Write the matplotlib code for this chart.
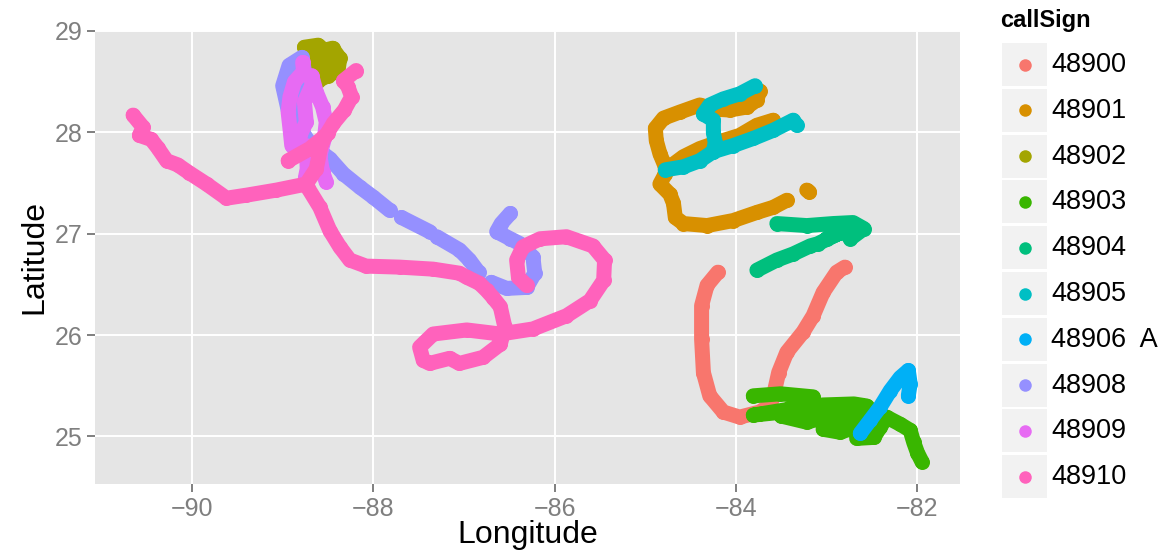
import numpy as np
import matplotlib.pyplot as plt
from matplotlib.patches import Rectangle

plt.rcParams['font.family'] = ['Liberation Sans', 'DejaVu Sans']

nan = np.nan

call_signs = ['48900', '48901', '48902', '48903', '48904',
              '48905', '48906', '48908', '48909', '48910']
legend_labels = ['48900', '48901', '48902', '48903', '48904',
                 '48905', '48906  A', '48908', '48909', '48910']
colors = ['#F8766D', '#D89000', '#A3A500', '#39B600', '#00BF7D',
          '#00BFC4', '#00B0F6', '#9590FF', '#E76BF3', '#FF62BC']

# drifter positions, nan = gap between recorded stretches
lon_48900 = [-84.20, -84.32, -84.38, -84.38, -84.36, -84.29, -84.14, -83.96, -83.74,
             -83.62, -83.57, -83.53, -83.44, -83.26, -83.15, -83.04, -82.89, -82.80]
lat_48900 = [26.62, 26.49, 26.29, 25.96, 25.63, 25.40, 25.24, 25.19, 25.24,
             25.31, 25.47, 25.63, 25.83, 26.03, 26.19, 26.42, 26.62, 26.67]

lon_48901 = [-83.74, -83.77, -83.88, -84.07, -84.25, -84.40, -84.62, -84.80, -84.89, -84.88,
             -84.84, -84.78, -84.78, -84.84, -84.73, -84.69, -84.67, -84.58, -84.32, -84.03,
             -83.77, -83.59, -83.44, nan,
             -84.73, -84.58, -84.40, -84.21, -83.96, -83.77, -83.59, nan,
             -83.22, -83.19]
lat_48901 = [28.41, 28.32, 28.25, 28.22, 28.23, 28.27, 28.20, 28.14, 28.04, 27.92,
             27.79, 27.66, 27.59, 27.49, 27.39, 27.30, 27.16, 27.10, 27.08, 27.13,
             27.21, 27.26, 27.33, nan,
             27.66, 27.76, 27.84, 27.90, 27.97, 28.07, 28.12, nan,
             27.43, 27.41]

lon_48902 = [-88.76, -88.61, -88.54, -88.45, -88.37, -88.39, -88.50, -88.61, -88.68,
             -88.76, -88.61, -88.48, -88.57, -88.78]
lat_48902 = [28.84, 28.86, 28.81, 28.83, 28.73, 28.61, 28.56, 28.51, 28.61,
             28.74, 28.75, 28.69, 28.63, 28.59]

lon_48903 = [-83.81, -83.51, -83.15, -83.48, -83.81, -83.40, -83.04, -82.70, -82.56,
             -82.85, -83.22, -83.50, -83.22, -82.90, -82.66, -82.90, -83.04, -82.85,
             -82.66, -82.67, -82.48, -82.41, -82.34, -82.19, -82.08, -82.04, -82.00,
             -81.95]
lat_48903 = [25.40, 25.42, 25.39, 25.24, 25.21, 25.27, 25.31, 25.32, 25.30,
             25.24, 25.20, 25.20, 25.14, 25.22, 25.22, 25.12, 25.07, 25.04,
             25.10, 24.98, 24.99, 25.09, 25.19, 25.12, 25.06, 24.94, 24.84,
             24.75]

lon_48904 = [-83.55, -83.22, -82.93, -82.71, -82.59, -82.74, -82.80, -83.00, -82.85,
             -83.10, -83.18, -83.37, -83.55, -83.77]
lat_48904 = [27.10, 27.08, 27.10, 27.11, 27.05, 26.95, 27.03, 26.95, 27.01,
             26.90, 26.88, 26.80, 26.74, 26.64]

lon_48905 = [-83.79, -83.96, -84.14, -84.29, -84.36, -84.25, -84.25, -84.23, -84.25, nan,
             -84.78, -84.58, -84.40, -84.25, -84.03, -83.81, -83.59, -83.37, -83.33]
lat_48905 = [28.46, 28.38, 28.33, 28.27, 28.18, 28.12, 28.00, 27.90, 27.81, nan,
             27.63, 27.66, 27.72, 27.81, 27.87, 27.94, 28.02, 28.12, 28.07]

lon_48906 = [-82.63, -82.52, -82.41, -82.30, -82.19, -82.10, -82.08, -82.10]
lat_48906 = [25.03, 25.16, 25.29, 25.45, 25.58, 25.65, 25.52, 25.40]

lon_48908 = [-88.94, -89.00, -88.93, -88.79, -88.76, -88.78, -88.81, -88.81, -88.76, -88.68,
             -88.57, -88.48, -88.33, -88.15, -88.00, -87.82, nan,
             -87.69, -87.38, nan,
             -87.30, -87.05, -86.94, -86.84, nan,
             -86.70, -86.53, -86.31, -86.22, -86.24, -86.38, -86.49, -86.64, -86.59, -86.49]
lat_48908 = [28.22, 28.46, 28.66, 28.74, 28.61, 28.41, 28.22, 28.07, 27.97, 27.87,
             27.80, 27.74, 27.59, 27.46, 27.36, 27.23, nan,
             27.16, 27.02, nan,
             26.97, 26.84, 26.74, 26.62, nan,
             26.52, 26.46, 26.47, 26.61, 26.77, 26.90, 26.95, 27.02, 27.10, 27.20]

lon_48909 = [-88.78, -88.77, -88.87, -88.92, -88.94, -88.92, -88.90, -88.81, -88.74, -88.76,
             -88.68, -88.68, -88.63, -88.56, -88.52, -88.54, -88.59, -88.56, -88.52, nan,
             -88.74, -88.73, -88.75]
lat_48909 = [28.69, 28.60, 28.50, 28.35, 28.20, 28.04, 27.87, 27.97, 28.10, 28.30,
             28.46, 28.56, 28.40, 28.25, 28.10, 27.94, 27.77, 27.61, 27.51, nan,
             27.87, 27.64, 27.55]

lon_48910 = [-90.65, -90.54, -90.58, -90.45, -90.38, -90.28, -90.16, -90.03, -89.84, -89.62,
             -89.40, -89.07, -88.74, -88.63, -88.57, -88.44, -88.32, -88.24, -88.28, -88.33,
             -88.19, nan,
             -88.94, -88.70, -88.50, nan,
             -88.74, -88.72, -88.59, -88.48, -88.37, -88.26, -88.08, -87.71, -87.34, -87.05,
             -86.97, -86.83, -86.75, -86.68, -86.60, -86.55, -86.60, -86.79, -87.05, -87.16,
             -87.38, -87.45, -87.49, -87.34, -86.97, -86.60, -86.24, -85.87, -85.61, -85.46,
             -85.45, -85.58, -85.87, -86.16, -86.35, -86.42, -86.40, -86.31]
lat_48910 = [28.17, 28.05, 27.97, 27.93, 27.85, 27.72, 27.68, 27.60, 27.49, 27.35,
             27.38, 27.43, 27.49, 27.64, 27.90, 28.09, 28.22, 28.35, 28.45, 28.51,
             28.61, nan,
             27.72, 27.84, 27.99, nan,
             27.49, 27.45, 27.26, 27.03, 26.87, 26.74, 26.68, 26.67, 26.65, 26.61,
             26.57, 26.51, 26.44, 26.37, 26.28, 26.08, 25.91, 25.78, 25.72, 25.77,
             25.72, 25.75, 25.88, 26.01, 26.05, 26.01, 26.06, 26.19, 26.34, 26.54,
             26.74, 26.88, 26.97, 26.95, 26.87, 26.74, 26.57, 26.49]

tracks = [(lon_48900, lat_48900), (lon_48901, lat_48901), (lon_48902, lat_48902),
          (lon_48903, lat_48903), (lon_48904, lat_48904), (lon_48905, lat_48905),
          (lon_48906, lat_48906), (lon_48908, lat_48908), (lon_48909, lat_48909),
          (lon_48910, lat_48910)]

fig = plt.figure(figsize=(11.61, 5.6), dpi=100)
ax = fig.add_axes([95 / 1161, 1 - 484 / 560, 865 / 1161, 453 / 560])
ax.set_facecolor('#E5E5E5')

for (lon, lat), c in zip(tracks, colors):
    ax.plot(lon, lat, color=c, lw=10.8, solid_capstyle='round', solid_joinstyle='round',
            marker='o', ms=10.8, mew=0, zorder=3)

ax.set_xlim(-91.07, -81.53)
ax.set_ylim(24.53, 29.0)
ax.set_xticks([-90, -88, -86, -84, -82])
ax.set_yticks([25, 26, 27, 28, 29])
ax.set_xticklabels(['\u221290', '\u221288', '\u221286', '\u221284', '\u221282'])
ax.grid(True, color='white', lw=1.4, zorder=1)
ax.set_axisbelow(True)
for s in ax.spines.values():
    s.set_visible(False)
ax.tick_params(colors='#7F7F7F', length=6, width=1.4, labelsize=18, pad=3)
ax.set_xlabel('Longitude', fontsize=23, labelpad=0)
ax.set_ylabel('Latitude', fontsize=23, labelpad=4)

# legend drawn by hand: grey key boxes with a dot in each
lg = fig.add_axes([0, 0, 1, 1], facecolor='none')
lg.set_xlim(0, 1161)
lg.set_ylim(560, 0)
lg.axis('off')
lg.text(1000, 21, 'callSign', fontsize=17, fontweight='bold', va='center', ha='left')
for i, (lab, c) in enumerate(zip(legend_labels, colors)):
    top = 43 + i * 45.8
    lg.add_patch(Rectangle((1002, top), 45, 43, facecolor='#F2F2F2', edgecolor='none'))
    lg.plot(1024.5, top + 21.5, 'o', color=c, ms=9, mew=0)
    lg.text(1051, top + 22, lab, fontsize=19.5, va='center', ha='left')

fig.savefig('out.png', dpi=100)
